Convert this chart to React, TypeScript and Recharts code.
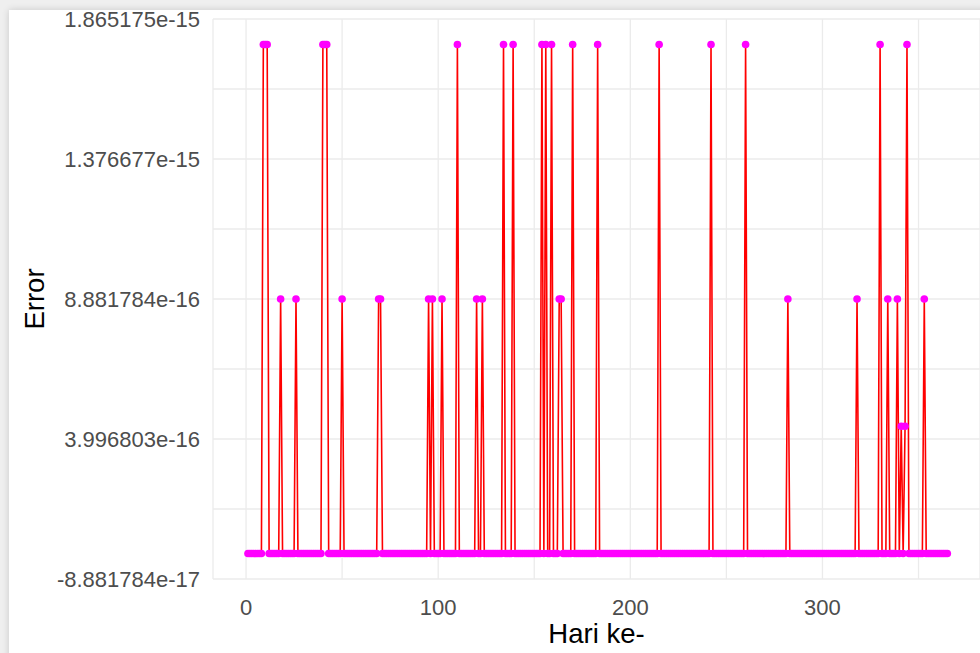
import { LineChart, Line, XAxis, YAxis, CartesianGrid } from 'recharts'

// one machine epsilon, the errors sit on multiples of it
const EPS = 2.220446e-16
const DAY_COUNT = 365

// days, grouped by the level they reach
const peakDays = [9, 10, 11, 40, 41, 42, 110, 134, 139, 154, 156, 159, 170, 183, 215, 242, 260, 330, 344] // 8 eps
const midDays = [18, 26, 50, 69, 70, 95, 97, 102, 120, 123, 163, 164, 282, 318, 334, 339, 353] // 4 eps
const lowDays = [341, 343] // 2 eps

const yTicks = [-8.881784e-17, 3.996803e-16, 8.881784e-16, 1.376677e-15, 1.865175e-15]
const yTickLabels = ['-8.881784e-17', '3.996803e-16', '8.881784e-16', '1.376677e-15', '1.865175e-15']
const yMinorTicks = [1.554312e-16, 6.439294e-16, 1.132427e-15, 1.620926e-15]
const xTicks = [0, 100, 200, 300]
const xMinorTicks = [50, 150, 250, 350]

const FONT = '"Liberation Sans", Arial, sans-serif'

const data = Array.from({ length: DAY_COUNT }, (_, i) => {
  const day = i + 1
  let error = 0
  if (peakDays.includes(day)) error = 8 * EPS
  else if (midDays.includes(day)) error = 4 * EPS
  else if (lowDays.includes(day)) error = 2 * EPS
  return { day, error }
})

const allY = [...yTicks, ...yMinorTicks].sort((a, b) => a - b)
const allX = [...xTicks, ...xMinorTicks].sort((a, b) => a - b)

const fmtY = (v: number) => {
  const i = yTicks.findIndex(t => Math.abs(t - v) < 1e-20)
  return i >= 0 ? yTickLabels[i] : ''
}
const fmtX = (v: number) => (xTicks.includes(v) ? String(v) : '')

export default function App() {
  return (
    <div style={{ position: 'fixed', left: 0, top: 0, width: 980, height: 653, background: '#efefef', overflow: 'hidden' }}>
      {/* white sheet of the screenshot, with its soft shadow */}
      <div style={{ position: 'absolute', left: 9, top: 10, width: 990, height: 660, background: '#fff', boxShadow: '0 0 7px rgba(0,0,0,0.16)' }} />
      <div style={{ position: 'absolute', left: 0, top: 0 }}>
        <LineChart width={980} height={653} data={data} margin={{ top: 19, right: 0, bottom: 0, left: 0 }}>
          <CartesianGrid stroke="#EBEBEB" strokeWidth={1.3} />
          <XAxis
            dataKey="day"
            type="number"
            domain={[-17.2, 382]}
            ticks={allX}
            interval={0}
            tickFormatter={fmtX}
            axisLine={false}
            tickLine={false}
            tickSize={0}
            tickMargin={20}
            height={74}
            tick={{ fontSize: 22, fill: '#4D4D4D', fontFamily: FONT }}
            label={{ value: 'Hari ke-', position: 'insideBottom', offset: 10, fontSize: 27.5, fill: '#000', fontFamily: FONT }}
          />
          <YAxis
            type="number"
            domain={[yTicks[0], yTicks[yTicks.length - 1]]}
            ticks={allY}
            interval={0}
            tickFormatter={fmtY}
            axisLine={false}
            tickLine={false}
            tickSize={0}
            tickMargin={13}
            width={213}
            tick={{ fontSize: 22, fill: '#4D4D4D', fontFamily: FONT }}
            label={{ value: 'Error', angle: -90, position: 'insideLeft', offset: 34, fontSize: 27.5, fill: '#000', fontFamily: FONT, style: { textAnchor: 'middle' } }}
          />
          {/* points first, line drawn over them */}
          <Line dataKey="error" stroke="none" dot={{ r: 3.8, fill: '#FF00FF', stroke: 'none' }} activeDot={false} isAnimationActive={false} />
          <Line dataKey="error" stroke="#FF0000" strokeWidth={1.6} dot={false} activeDot={false} isAnimationActive={false} />
        </LineChart>
      </div>
    </div>
  )
}
